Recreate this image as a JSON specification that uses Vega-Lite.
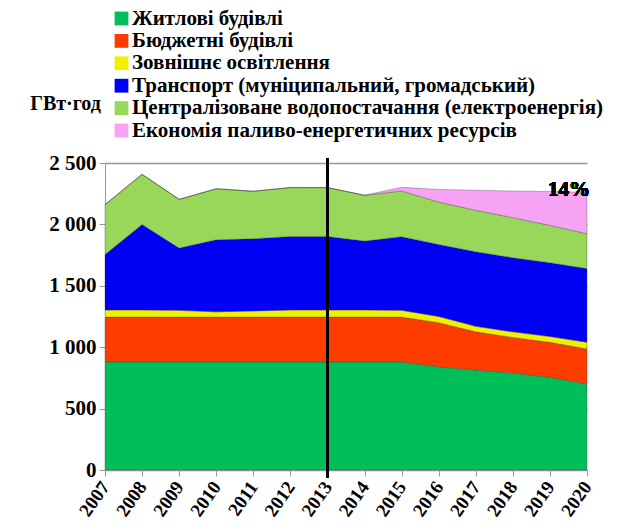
{
  "$schema": "https://vega.github.io/schema/vega-lite/v6.json",
  "width": 482,
  "height": 307,
  "autosize": {"type": "none"},
  "padding": {"left": 105, "top": 163, "right": 43, "bottom": 60},
  "background": "white",
  "config": {
    "view": {"stroke": null},
    "font": "Liberation Serif",
    "axis": {"labelFont": "Liberation Serif", "titleFont": "Liberation Serif"},
    "legend": {"labelFont": "Liberation Serif", "titleFont": "Liberation Serif"},
    "text": {"font": "Liberation Serif"}
  },
  "data": {"values": [
    {"year": 2007, "cat": "Житлові будівлі", "k": 1, "value": 880},
    {"year": 2008, "cat": "Житлові будівлі", "k": 1, "value": 880},
    {"year": 2009, "cat": "Житлові будівлі", "k": 1, "value": 880},
    {"year": 2010, "cat": "Житлові будівлі", "k": 1, "value": 880},
    {"year": 2011, "cat": "Житлові будівлі", "k": 1, "value": 880},
    {"year": 2012, "cat": "Житлові будівлі", "k": 1, "value": 880},
    {"year": 2013, "cat": "Житлові будівлі", "k": 1, "value": 880},
    {"year": 2014, "cat": "Житлові будівлі", "k": 1, "value": 880},
    {"year": 2015, "cat": "Житлові будівлі", "k": 1, "value": 880},
    {"year": 2016, "cat": "Житлові будівлі", "k": 1, "value": 840},
    {"year": 2017, "cat": "Житлові будівлі", "k": 1, "value": 815},
    {"year": 2018, "cat": "Житлові будівлі", "k": 1, "value": 790},
    {"year": 2019, "cat": "Житлові будівлі", "k": 1, "value": 755},
    {"year": 2020, "cat": "Житлові будівлі", "k": 1, "value": 700},
    {"year": 2007, "cat": "Бюджетні будівлі", "k": 2, "value": 365},
    {"year": 2008, "cat": "Бюджетні будівлі", "k": 2, "value": 365},
    {"year": 2009, "cat": "Бюджетні будівлі", "k": 2, "value": 365},
    {"year": 2010, "cat": "Бюджетні будівлі", "k": 2, "value": 365},
    {"year": 2011, "cat": "Бюджетні будівлі", "k": 2, "value": 365},
    {"year": 2012, "cat": "Бюджетні будівлі", "k": 2, "value": 365},
    {"year": 2013, "cat": "Бюджетні будівлі", "k": 2, "value": 365},
    {"year": 2014, "cat": "Бюджетні будівлі", "k": 2, "value": 365},
    {"year": 2015, "cat": "Бюджетні будівлі", "k": 2, "value": 365},
    {"year": 2016, "cat": "Бюджетні будівлі", "k": 2, "value": 360},
    {"year": 2017, "cat": "Бюджетні будівлі", "k": 2, "value": 310},
    {"year": 2018, "cat": "Бюджетні будівлі", "k": 2, "value": 290},
    {"year": 2019, "cat": "Бюджетні будівлі", "k": 2, "value": 285},
    {"year": 2020, "cat": "Бюджетні будівлі", "k": 2, "value": 286},
    {"year": 2007, "cat": "Зовнішнє освітлення", "k": 3, "value": 58},
    {"year": 2008, "cat": "Зовнішнє освітлення", "k": 3, "value": 58},
    {"year": 2009, "cat": "Зовнішнє освітлення", "k": 3, "value": 55},
    {"year": 2010, "cat": "Зовнішнє освітлення", "k": 3, "value": 43},
    {"year": 2011, "cat": "Зовнішнє освітлення", "k": 3, "value": 50},
    {"year": 2012, "cat": "Зовнішнє освітлення", "k": 3, "value": 58},
    {"year": 2013, "cat": "Зовнішнє освітлення", "k": 3, "value": 58},
    {"year": 2014, "cat": "Зовнішнє освітлення", "k": 3, "value": 58},
    {"year": 2015, "cat": "Зовнішнє освітлення", "k": 3, "value": 55},
    {"year": 2016, "cat": "Зовнішнє освітлення", "k": 3, "value": 50},
    {"year": 2017, "cat": "Зовнішнє освітлення", "k": 3, "value": 45},
    {"year": 2018, "cat": "Зовнішнє освітлення", "k": 3, "value": 45},
    {"year": 2019, "cat": "Зовнішнє освітлення", "k": 3, "value": 47},
    {"year": 2020, "cat": "Зовнішнє освітлення", "k": 3, "value": 54},
    {"year": 2007, "cat": "Транспорт (муніципальний, громадський)", "k": 4, "value": 451},
    {"year": 2008, "cat": "Транспорт (муніципальний, громадський)", "k": 4, "value": 697},
    {"year": 2009, "cat": "Транспорт (муніципальний, громадський)", "k": 4, "value": 507},
    {"year": 2010, "cat": "Транспорт (муніципальний, громадський)", "k": 4, "value": 587},
    {"year": 2011, "cat": "Транспорт (муніципальний, громадський)", "k": 4, "value": 588},
    {"year": 2012, "cat": "Транспорт (муніципальний, громадський)", "k": 4, "value": 599},
    {"year": 2013, "cat": "Транспорт (муніципальний, громадський)", "k": 4, "value": 599},
    {"year": 2014, "cat": "Транспорт (муніципальний, громадський)", "k": 4, "value": 561},
    {"year": 2015, "cat": "Транспорт (муніципальний, громадський)", "k": 4, "value": 600},
    {"year": 2016, "cat": "Транспорт (муніципальний, громадський)", "k": 4, "value": 587},
    {"year": 2017, "cat": "Транспорт (муніципальний, громадський)", "k": 4, "value": 607},
    {"year": 2018, "cat": "Транспорт (муніципальний, громадський)", "k": 4, "value": 604},
    {"year": 2019, "cat": "Транспорт (муніципальний, громадський)", "k": 4, "value": 601},
    {"year": 2020, "cat": "Транспорт (муніципальний, громадський)", "k": 4, "value": 600},
    {"year": 2007, "cat": "Централізоване водопостачання (електроенергія)", "k": 5, "value": 407},
    {"year": 2008, "cat": "Централізоване водопостачання (електроенергія)", "k": 5, "value": 408},
    {"year": 2009, "cat": "Централізоване водопостачання (електроенергія)", "k": 5, "value": 397},
    {"year": 2010, "cat": "Централізоване водопостачання (електроенергія)", "k": 5, "value": 415},
    {"year": 2011, "cat": "Централізоване водопостачання (електроенергія)", "k": 5, "value": 387},
    {"year": 2012, "cat": "Централізоване водопостачання (електроенергія)", "k": 5, "value": 398},
    {"year": 2013, "cat": "Централізоване водопостачання (електроенергія)", "k": 5, "value": 398},
    {"year": 2014, "cat": "Централізоване водопостачання (електроенергія)", "k": 5, "value": 373},
    {"year": 2015, "cat": "Централізоване водопостачання (електроенергія)", "k": 5, "value": 372},
    {"year": 2016, "cat": "Централізоване водопостачання (електроенергія)", "k": 5, "value": 345},
    {"year": 2017, "cat": "Централізоване водопостачання (електроенергія)", "k": 5, "value": 338},
    {"year": 2018, "cat": "Централізоване водопостачання (електроенергія)", "k": 5, "value": 326},
    {"year": 2019, "cat": "Централізоване водопостачання (електроенергія)", "k": 5, "value": 304},
    {"year": 2020, "cat": "Централізоване водопостачання (електроенергія)", "k": 5, "value": 284},
    {"year": 2015, "cat": "Економія паливо-енергетичних ресурсів", "k": 6, "value": 30},
    {"year": 2016, "cat": "Економія паливо-енергетичних ресурсів", "k": 6, "value": 103},
    {"year": 2017, "cat": "Економія паливо-енергетичних ресурсів", "k": 6, "value": 163},
    {"year": 2018, "cat": "Економія паливо-енергетичних ресурсів", "k": 6, "value": 217},
    {"year": 2019, "cat": "Економія паливо-енергетичних ресурсів", "k": 6, "value": 276},
    {"year": 2020, "cat": "Економія паливо-енергетичних ресурсів", "k": 6, "value": 338}
  ]},
  "layer": [
    {
      "mark": {"type": "area", "stroke": "#333333", "strokeWidth": 0.7, "strokeOpacity": 0.45},
      "encoding": {
        "x": {
          "field": "year", "type": "ordinal",
          "scale": {"type": "point", "padding": 0, "domain": [2007, 2008, 2009, 2010, 2011, 2012, 2013, 2014, 2015, 2016, 2017, 2018, 2019, 2020]},
          "axis": {
            "title": null, "grid": false,
            "labelAngle": -55, "labelAlign": "right", "labelBaseline": "middle",
            "labelFontSize": 19, "labelFontWeight": "bold", "labelColor": "black",
            "labelPadding": 7, "labelOverlap": false, "labelBound": false,
            "domainColor": "#999999", "tickColor": "#999999", "tickSize": 6
          }
        },
        "y": {
          "field": "value", "type": "quantitative", "stack": "zero",
          "scale": {"domain": [0, 2500], "nice": false},
          "axis": {
            "values": [0, 500, 1000, 1500, 2000, 2500],
            "labelExpr": "replace(format(datum.value, ','), ',', ' ')",
            "labelFontSize": 21, "labelFontWeight": "bold", "labelColor": "black", "labelPadding": 3,
            "domainColor": "#999999", "tickColor": "#999999", "tickSize": 6,
            "grid": true, "gridColor": "#999999", "gridWidth": 1.5,
            "title": "ГВт·год", "titleAngle": 0, "titleX": -40, "titleY": -60,
            "titleAlign": "center", "titleBaseline": "middle",
            "titleFontSize": 20, "titleFontWeight": "bold", "titleColor": "black"
          }
        },
        "color": {
          "field": "cat", "type": "nominal",
          "scale": {
            "domain": ["Житлові будівлі", "Бюджетні будівлі", "Зовнішнє освітлення", "Транспорт (муніципальний, громадський)", "Централізоване водопостачання (електроенергія)", "Економія паливо-енергетичних ресурсів"],
            "range": ["#00BF58", "#FF3C00", "#F0F000", "#0000F5", "#98D75A", "#F5A3F2"]
          },
          "legend": {
            "orient": "none", "legendX": 6, "legendY": -155, "title": null,
            "symbolType": "square", "symbolSize": 190, "symbolStrokeWidth": 0, "symbolOpacity": 1,
            "labelFont": "Liberation Serif", "labelFontSize": 21, "labelFontWeight": "bold", "labelColor": "black",
            "labelLimit": 0, "labelOffset": 0, "rowPadding": 0.4
          }
        },
        "order": {"field": "k", "type": "quantitative"}
      }
    },
    {
      "mark": {"type": "rule", "color": "black", "strokeWidth": 2.5},
      "encoding": {"x": {"datum": 2013, "type": "ordinal"}, "y": {"datum": 2540, "type": "quantitative"}, "y2": {"datum": -65}}
    },
    {
      "mark": {"type": "text", "align": "right", "baseline": "middle", "font": "Liberation Serif", "fontSize": 21, "fontWeight": "bold", "color": "black", "dx": 3, "dy": -2},
      "encoding": {"x": {"datum": 2020, "type": "ordinal"}, "y": {"datum": 2262, "type": "quantitative"}, "text": {"value": "14%"}}
    }
  ]
}
